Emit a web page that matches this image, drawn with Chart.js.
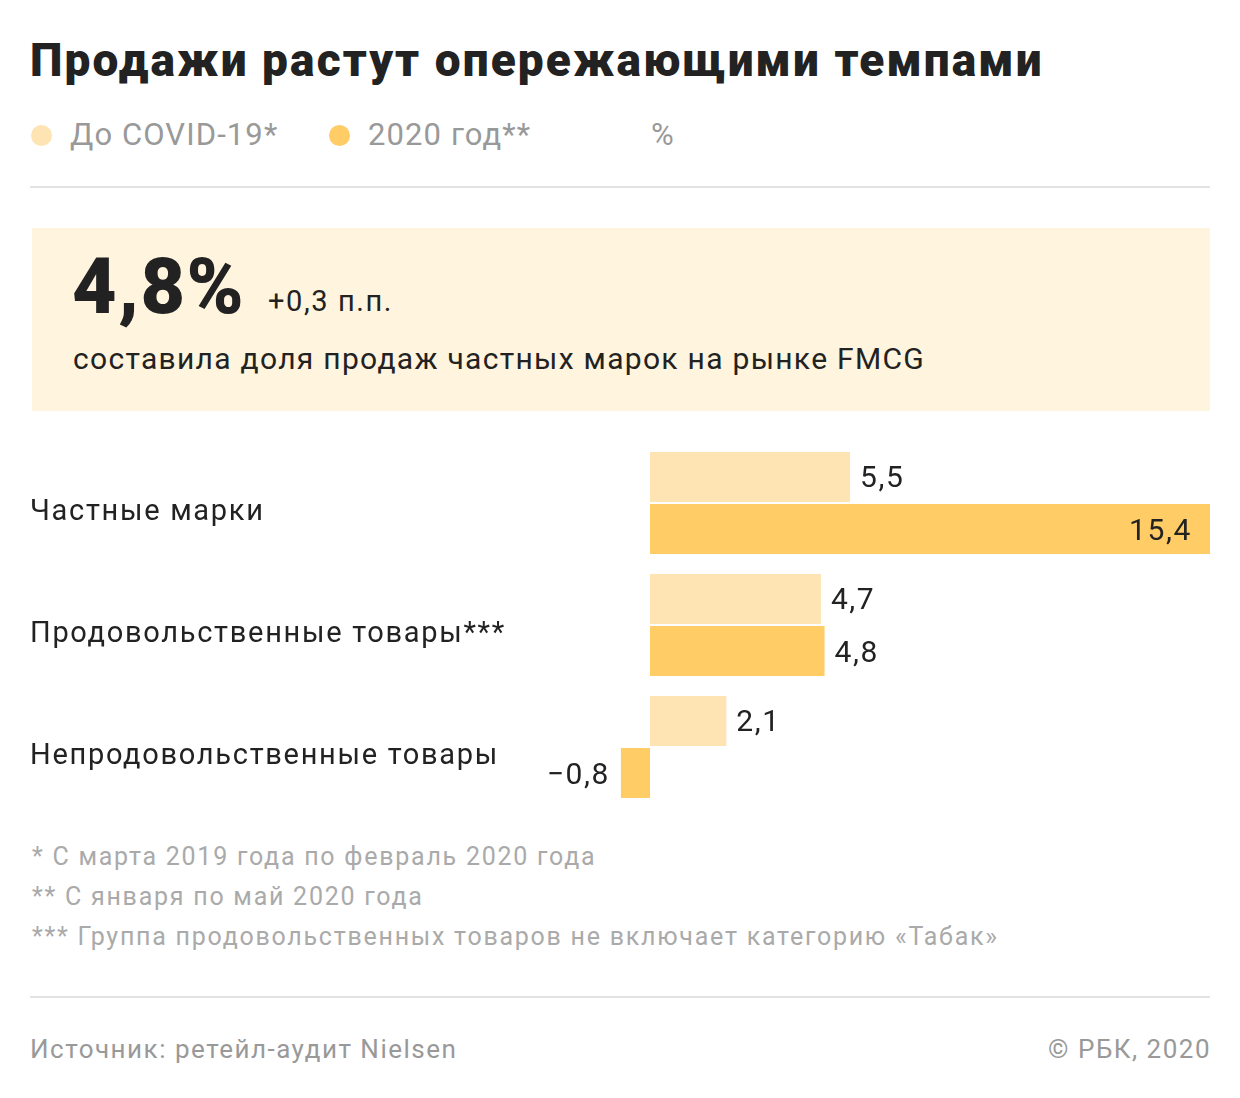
<!DOCTYPE html>
<html lang="ru">
<head>
<meta charset="utf-8">
<title>Продажи растут опережающими темпами</title>
<script src="https://cdn.jsdelivr.net/npm/chart.js@4/dist/chart.umd.min.js"></script>
<style>
  html, body { margin: 0; padding: 0; background: #fff; }
  body { width: 1240px; height: 1098px; position: relative; font-family: Roboto, "Noto Sans", sans-serif; color: #222; overflow: hidden; }
  .t { position: absolute; white-space: nowrap; }
  .title { left: 30px; top: 32px; font-size: 46px; font-weight: 900; line-height: 56px; color: #222; letter-spacing: 2.1px; }
  .leg { top: 116px; font-size: 31px; line-height: 38px; color: #999; letter-spacing: 1.1px; }
  .dot { position: absolute; top: 125px; width: 21px; height: 21px; border-radius: 50%; }
  .rule { position: absolute; left: 30px; width: 1180px; height: 2px; background: #e2e2e2; }
  .box { position: absolute; left: 32px; top: 228px; width: 1178px; height: 183px; background: #fff4de; }
  .big { left: 72px; top: 247px; font-size: 77px; font-weight: 900; line-height: 80px; letter-spacing: 1.5px; }
  .delta { left: 268px; top: 283px; font-size: 29px; line-height: 36px; letter-spacing: 1.6px; }
  .sub { left: 73px; top: 340px; font-size: 30px; line-height: 38px; letter-spacing: 1.3px; }
  .note { left: 32px; font-size: 25px; line-height: 32px; color: #aaa; letter-spacing: 1.75px; }
  .src { top: 1032px; font-size: 26px; line-height: 34px; color: #999; letter-spacing: 1.5px; }
  #wrap { position: absolute; left: 0; top: 430px; width: 1240px; height: 400px; }
</style>
</head>
<body>
<div class="t title">Продажи растут опережающими темпами</div>

<div class="dot" style="left:31px; background:#ffe4b3;"></div>
<div class="t leg" style="left:70px;">До COVID-19*</div>
<div class="dot" style="left:329px; background:#ffcc66;"></div>
<div class="t leg" style="left:368px;">2020 год**</div>
<div class="t leg" style="left:651px;">%</div>

<div class="rule" style="top:186px;"></div>

<div class="box"></div>
<div class="t big">4,8%</div>
<div class="t delta">+0,3 п.п.</div>
<div class="t sub">составила доля продаж частных марок на рынке FMCG</div>

<div id="wrap"><canvas id="chart"></canvas></div>

<div class="t note" style="top:841px;">* С марта 2019 года по февраль 2020 года</div>
<div class="t note" style="top:881px;">** С января по май 2020 года</div>
<div class="t note" style="top:921px;">*** Группа продовольственных товаров не включает категорию «Табак»</div>

<div class="rule" style="top:996px;"></div>

<div class="t src" style="left:30px;">Источник: ретейл-аудит Nielsen</div>
<div class="t src" style="right:29px;">© РБК, 2020</div>

<script>
// данные
var categories = ['Частные марки', 'Продовольственные товары***', 'Непродовольственные товары'];
var beforeCovid = [5.5, 4.7, 2.1];
var year2020 = [15.4, 4.8, -0.8];
var seriesNames = ['До COVID-19*', '2020 год**'];

function fmt(v) {
    return v.toFixed(1).replace('.', ',').replace('-', '\u2212');
}

// шрифт в референсе шире, чем Roboto
var spacing = {
    id: 'spacing',
    beforeDraw: function(chart) {
        chart.ctx.letterSpacing = '1.7px';
    }
};

var valueLabels = {
    id: 'valueLabels',
    afterDatasetsDraw: function(chart) {
        var ctx = chart.ctx;
        var area = chart.chartArea;
        ctx.save();
        ctx.letterSpacing = '1.6px';
        ctx.font = '30px Roboto, "Noto Sans", sans-serif';
        ctx.fillStyle = '#222';
        ctx.textBaseline = 'middle';
        chart.data.datasets.forEach(function(ds, i) {
            var meta = chart.getDatasetMeta(i);
            meta.data.forEach(function(bar, j) {
                var v = ds.data[j];
                var txt = fmt(v);
                var w = ctx.measureText(txt).width;
                var y = bar.y + 3;
                if (v < 0) {
                    ctx.textAlign = 'right';
                    ctx.fillText(txt, bar.x - 11, y);
                } else if (bar.x + 10 + w > area.right) {
                    ctx.textAlign = 'right';
                    ctx.fillText(txt, bar.x - 18, y);
                } else {
                    ctx.textAlign = 'left';
                    ctx.fillText(txt, bar.x + 10, y);
                }
            });
        });
        ctx.restore();
    }
};

var ctx = document.getElementById('chart').getContext('2d');
new Chart(ctx, {
    type: 'bar',
    data: {
        labels: categories,
        datasets: [
        {
            label: seriesNames[0],
            data: beforeCovid,
            backgroundColor: '#ffe4b3',
            categoryPercentage: 0.8525,
            barPercentage: 0.9615
        },
        {
            label: seriesNames[1],
            data: year2020,
            backgroundColor: '#ffcc66',
            categoryPercentage: 0.8525,
            barPercentage: 0.9615
        }
        ]
    },
    options: {
        indexAxis: 'y',
        responsive: true,
        maintainAspectRatio: false,
        animation: false,
        layout: { padding: { left: 30, right: 30, top: 12, bottom: 22 } },
        plugins: {
            legend: { display: false },
            tooltip: { enabled: false }
        },
        scales: {
            x: {
                display: false,
                min: -0.825,
                max: 15.4
            },
            y: {
                grid: { display: false },
                border: { display: false },
                afterFit: function(scale) {
                    scale.width = 590;
                    scale.paddingTop = 0;
                    scale.paddingBottom = 0;
                },
                ticks: {
                    crossAlign: 'far',
                    labelOffset: 10,
                    color: '#222',
                    font: { family: 'Roboto', size: 29 }
                }
            }
        }
    },
    plugins: [spacing, valueLabels]
});
</script>
</body>
</html>
